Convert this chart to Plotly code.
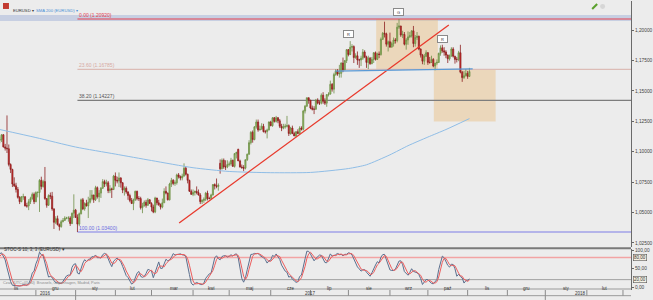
import pandas as pd
import plotly.graph_objects as go

# ---------------- data: EURUSD daily candles ----------------
dates = pd.bdate_range("2016-10-17", "2017-11-02")

open_ = [
 1.0970,1.1000,1.0975,1.0975,1.0930,1.0890,1.0880,1.0885,1.0920,1.0895,1.0985,
 1.0980,1.1055,1.1095,1.1100,1.1140,1.1040,1.1030,1.1025,1.0895,1.0855,1.0735,1.0720,1.0690,1.0625,1.0590,1.0630,1.0630,1.0555,1.0555,1.0590,1.0615,1.0650,
 1.0590,1.0665,1.0665,1.0765,1.0715,1.0755,1.0615,1.0560,1.0640,1.0635,1.0530,1.0420,1.0450,1.0400,1.0385,1.0425,1.0435,1.0455,1.0455,1.0455,1.0410,1.0495,
 1.0520,1.0460,1.0405,1.0490,1.0605,1.0530,1.0575,1.0555,1.0585,1.0615,1.0645,1.0605,1.0705,1.0630,1.0660,1.0700,1.0755,1.0735,1.0745,1.0680,1.0695,1.0690,
 1.0800,1.0765,1.0760,1.0785,1.0745,1.0685,1.0700,1.0670,1.0640,1.0600,1.0575,1.0605,1.0675,1.0615,1.0615,1.0540,1.0555,1.0585,1.0560,1.0605,
 1.0575,1.0545,1.0505,1.0620,1.0580,1.0565,1.0545,1.0580,1.0675,1.0660,1.0605,1.0735,1.0765,1.0740,1.0745,1.0810,1.0795,1.0785,1.0800,1.0865,1.0815,1.0765,1.0675,
 1.0650,1.0665,1.0675,1.0665,1.0645,1.0590,1.0600,1.0610,1.0660,1.0615,1.0615,1.0645,1.0730,1.0720,1.0715,1.0905,1.0860,1.0930,1.0875,1.0875,
 1.0895,1.0900,1.0930,1.0880,1.0985,1.1020,1.0925,1.0875,1.0870,1.0865,1.0935,1.0980,1.1075,1.1160,1.1100,1.1205,1.1245,1.1180,1.1185,1.1210,1.1165,1.1165,1.1180,
 1.1245,1.1215,1.1280,1.1250,1.1280,1.1255,1.1210,1.1195,1.1205,1.1210,1.1215,1.1150,1.1195,1.1150,1.1130,1.1165,1.1150,1.1195,1.1185,1.1335,1.1375,1.1445,
 1.1425,1.1360,1.1350,1.1350,1.1425,1.1400,1.1400,1.1465,1.1415,1.1400,1.1470,1.1475,1.1555,1.1515,1.1635,1.1665,1.1640,1.1645,1.1730,1.1675,1.1750,
 1.1840,1.1800,1.1860,1.1865,1.1775,1.1790,1.1755,1.1755,1.1770,1.1820,1.1780,1.1735,1.1770,1.1725,1.1760,1.1815,1.1760,1.1805,1.1800,1.1925,1.1975,1.1970,1.1885,
 1.1905,1.1860,1.1890,1.1920,1.1915,1.2025,1.2035,1.1960,1.1965,1.1885,1.1920,1.1945,1.1955,1.1995,1.1890,1.1940,1.1950,1.1845,1.1795,1.1745,1.1785,
 1.1815,1.1735,1.1735,1.1760,1.1705,1.1730,1.1735,1.1810,1.1855,1.1830,1.1820,1.1795,1.1765,1.1790,1.1845,1.1785,1.1760,1.1760,1.1815,1.1655,1.1610,1.1625,
 1.1645,1.1620,
]
high = [
 1.1010,1.1030,1.0990,1.1040,1.0945,1.0905,1.0890,1.0945,1.0945,1.0990,1.0990,
 1.1075,1.1125,1.1125,1.1145,1.1145,1.1065,1.1299,1.1060,1.0905,1.0860,1.0790,1.0745,1.0710,1.0635,1.0635,1.0655,1.0635,1.0580,1.0610,1.0630,1.0665,1.0665,
 1.0675,1.0675,1.0775,1.0795,1.0770,1.0875,1.0620,1.0650,1.0665,1.0670,1.0535,1.0470,1.0475,1.0410,1.0440,1.0455,1.0470,1.0465,1.0470,1.0470,1.0500,1.0650,
 1.0530,1.0485,1.0500,1.0615,1.0620,1.0585,1.0605,1.0630,1.0685,1.0685,1.0645,1.0720,1.0715,1.0685,1.0710,1.0775,1.0770,1.0770,1.0760,1.0725,1.0705,1.0810,
 1.0830,1.0795,1.0830,1.0790,1.0750,1.0715,1.0715,1.0675,1.0655,1.0620,1.0615,1.0680,1.0680,1.0635,1.0630,1.0580,1.0600,1.0605,1.0620,1.0610,
 1.0585,1.0565,1.0630,1.0620,1.0605,1.0575,1.0615,1.0700,1.0715,1.0665,1.0745,1.0785,1.0775,1.0765,1.0820,1.0825,1.0805,1.0820,1.0905,1.0875,1.0820,1.0770,1.0690,
 1.0690,1.0680,1.0715,1.0690,1.0660,1.0610,1.0625,1.0670,1.0680,1.0630,1.0655,1.0735,1.0740,1.0780,1.0740,1.0937,1.0945,1.0945,1.0930,1.0930,
 1.0920,1.0950,1.0935,1.0990,1.1000,1.1025,1.0935,1.0895,1.0890,1.0935,1.0985,1.1095,1.1170,1.1175,1.1210,1.1265,1.1265,1.1215,1.1235,1.1230,1.1180,1.1190,1.1250,
 1.1255,1.1285,1.1285,1.1295,1.1285,1.1270,1.1230,1.1230,1.1230,1.1295,1.1225,1.1205,1.1215,1.1165,1.1170,1.1185,1.1210,1.1210,1.1345,1.1385,1.1445,1.1445,
 1.1425,1.1380,1.1375,1.1435,1.1440,1.1420,1.1480,1.1490,1.1440,1.1475,1.1490,1.1585,1.1565,1.1650,1.1680,1.1680,1.1715,1.1735,1.1775,1.1755,1.1845,
 1.1845,1.1910,1.1885,1.1875,1.1810,1.1825,1.1765,1.1790,1.1845,1.1835,1.1790,1.1790,1.1780,1.1780,1.1820,1.1825,1.1815,1.1825,1.1940,1.1985,1.2070,1.1980,1.1915,
 1.1980,1.1905,1.1940,1.1935,1.2060,1.2092,1.2035,1.1995,1.1985,1.1935,1.1990,1.1985,1.2000,1.2035,1.1960,1.1985,1.1955,1.1850,1.1805,1.1805,1.1835,
 1.1820,1.1780,1.1790,1.1770,1.1730,1.1760,1.1815,1.1875,1.1880,1.1860,1.1835,1.1800,1.1800,1.1860,1.1860,1.1790,1.1780,1.1830,1.1880,1.1665,1.1665,1.1680,
 1.1665,1.1690,
]
low = [
 1.0960,1.0980,1.0960,1.0915,1.0860,1.0860,1.0850,1.0875,1.0890,1.0880,1.0955,
 1.0975,1.1050,1.1070,1.1080,1.1035,1.1010,1.0990,1.0880,1.0825,1.0710,1.0710,1.0665,1.0615,1.0570,1.0585,1.0605,1.0550,1.0540,1.0520,1.0570,1.0605,1.0570,
 1.0585,1.0625,1.0505,1.0690,1.0705,1.0605,1.0540,1.0555,1.0610,1.0515,1.0365,1.0405,1.0395,1.0352,1.0375,1.0420,1.0435,1.0445,1.0425,1.0390,1.0405,1.0455,
 1.0455,1.0340,1.0390,1.0485,1.0520,1.0515,1.0550,1.0455,1.0575,1.0600,1.0580,1.0595,1.0615,1.0585,1.0620,1.0695,1.0710,1.0715,1.0660,1.0660,1.0620,1.0685,
 1.0715,1.0740,1.0710,1.0705,1.0660,1.0640,1.0655,1.0605,1.0585,1.0570,1.0520,1.0595,1.0600,1.0595,1.0525,1.0495,1.0550,1.0540,1.0555,1.0570,
 1.0510,1.0495,1.0495,1.0560,1.0555,1.0525,1.0535,1.0580,1.0650,1.0600,1.0600,1.0710,1.0725,1.0720,1.0730,1.0780,1.0765,1.0765,1.0795,1.0805,1.0740,1.0670,1.0645,
 1.0635,1.0640,1.0650,1.0640,1.0570,1.0570,1.0580,1.0595,1.0600,1.0610,1.0610,1.0640,1.0690,1.0700,1.0680,1.0820,1.0855,1.0860,1.0850,1.0865,
 1.0880,1.0885,1.0875,1.0870,1.0945,1.0925,1.0870,1.0860,1.0840,1.0855,1.0925,1.0975,1.1060,1.1075,1.1095,1.1190,1.1165,1.1175,1.1185,1.1160,1.1150,1.1110,1.1175,
 1.1210,1.1205,1.1240,1.1240,1.1235,1.1195,1.1170,1.1185,1.1190,1.1200,1.1130,1.1140,1.1145,1.1130,1.1120,1.1145,1.1150,1.1175,1.1175,1.1315,1.1370,1.1395,
 1.1350,1.1340,1.1310,1.1345,1.1390,1.1385,1.1390,1.1395,1.1385,1.1370,1.1455,1.1470,1.1495,1.1480,1.1625,1.1625,1.1610,1.1610,1.1655,1.1670,1.1730,
 1.1785,1.1795,1.1825,1.1730,1.1765,1.1715,1.1690,1.1705,1.1755,1.1770,1.1690,1.1680,1.1715,1.1720,1.1730,1.1750,1.1755,1.1770,1.1790,1.1920,1.1940,1.1865,1.1825,
 1.1860,1.1860,1.1865,1.1890,1.1900,1.2010,1.1945,1.1935,1.1875,1.1840,1.1880,1.1935,1.1940,1.1860,1.1865,1.1920,1.1835,1.1775,1.1720,1.1715,1.1780,
 1.1715,1.1725,1.1730,1.1695,1.1670,1.1715,1.1730,1.1790,1.1815,1.1790,1.1770,1.1730,1.1750,1.1780,1.1775,1.1725,1.1735,1.1745,1.1645,1.1575,1.1600,1.1620,
 1.1600,1.1615,
]
close = [
 1.1000,1.0975,1.0975,1.0930,1.0890,1.0880,1.0885,1.0920,1.0895,1.0985,1.0980,
 1.1055,1.1095,1.1100,1.1140,1.1040,1.1030,1.1025,1.0895,1.0855,1.0735,1.0720,1.0690,1.0625,1.0590,1.0630,1.0630,1.0555,1.0555,1.0590,1.0615,1.0650,1.0590,
 1.0665,1.0665,1.0765,1.0715,1.0755,1.0615,1.0560,1.0640,1.0635,1.0530,1.0420,1.0450,1.0400,1.0385,1.0425,1.0435,1.0455,1.0455,1.0455,1.0410,1.0495,1.0520,
 1.0460,1.0405,1.0490,1.0605,1.0530,1.0575,1.0555,1.0585,1.0615,1.0645,1.0605,1.0705,1.0630,1.0660,1.0700,1.0755,1.0735,1.0745,1.0680,1.0695,1.0690,1.0800,
 1.0765,1.0760,1.0785,1.0745,1.0685,1.0700,1.0670,1.0640,1.0600,1.0575,1.0605,1.0675,1.0615,1.0615,1.0540,1.0555,1.0585,1.0560,1.0605,1.0575,
 1.0545,1.0505,1.0620,1.0580,1.0565,1.0545,1.0580,1.0675,1.0660,1.0605,1.0735,1.0765,1.0740,1.0745,1.0810,1.0795,1.0785,1.0800,1.0865,1.0815,1.0765,1.0675,1.0650,
 1.0665,1.0675,1.0665,1.0645,1.0590,1.0600,1.0610,1.0660,1.0615,1.0615,1.0645,1.0730,1.0720,1.0715,1.0725,1.0860,1.0930,1.0875,1.0875,1.0895,
 1.0900,1.0930,1.0880,1.0985,1.0995,1.0925,1.0875,1.0870,1.0865,1.0935,1.0980,1.1075,1.1160,1.1100,1.1205,1.1245,1.1180,1.1185,1.1210,1.1165,1.1165,1.1180,1.1245,
 1.1215,1.1280,1.1250,1.1280,1.1255,1.1210,1.1195,1.1205,1.1210,1.1215,1.1150,1.1195,1.1150,1.1130,1.1165,1.1150,1.1195,1.1185,1.1335,1.1375,1.1445,1.1425,
 1.1360,1.1350,1.1350,1.1425,1.1400,1.1400,1.1465,1.1415,1.1400,1.1470,1.1475,1.1555,1.1515,1.1635,1.1665,1.1640,1.1645,1.1730,1.1675,1.1750,1.1840,
 1.1800,1.1860,1.1865,1.1775,1.1790,1.1755,1.1755,1.1770,1.1820,1.1780,1.1735,1.1770,1.1725,1.1760,1.1815,1.1760,1.1805,1.1800,1.1925,1.1975,1.1970,1.1885,1.1905,
 1.1860,1.1890,1.1920,1.1915,1.2025,1.2035,1.1960,1.1965,1.1885,1.1920,1.1945,1.1955,1.1995,1.1890,1.1940,1.1950,1.1845,1.1795,1.1745,1.1785,1.1815,
 1.1735,1.1735,1.1760,1.1705,1.1730,1.1735,1.1810,1.1855,1.1830,1.1820,1.1795,1.1765,1.1790,1.1845,1.1785,1.1760,1.1760,1.1815,1.1655,1.1610,1.1625,1.1645,
 1.1620,1.1660,
]
assert len(open_) == len(high) == len(low) == len(close) == len(dates)

# SMA 200 (date, value)
sma_dates = ["2016-11-03", "2016-12-01", "2017-01-02", "2017-02-01", "2017-03-01", "2017-04-03",
             "2017-05-01", "2017-06-01", "2017-07-03", "2017-08-01", "2017-08-15", "2017-09-01",
             "2017-09-15", "2017-10-02", "2017-10-16", "2017-11-02"]
sma_values = [1.1183, 1.1117, 1.1039, 1.0981, 1.0928, 1.0869, 1.0838, 1.0828, 1.0830, 1.0862,
              1.0893, 1.0975, 1.1050, 1.1121, 1.1183, 1.1273]

# Fibonacci retracement
fib_levels = [0.0, 23.6, 38.2, 100.0]
fib_prices = [1.20920, 1.16785, 1.14227, 1.03400]
fib_labels = ["0.00 (1.20920)", "23.60 (1.16785)", "38.20 (1.14227)", "100.00 (1.03400)"]

price_ticks = [1.025, 1.05, 1.075, 1.10, 1.125, 1.15, 1.175, 1.20]
price_ticktext = ["1,02500", "1,05000", "1,07500", "1,10000", "1,12500", "1,15000", "1,17500", "1,20000"]

month_starts = ["2016-11-01", "2016-12-01", "2017-01-02", "2017-02-01", "2017-03-01", "2017-04-03",
                "2017-05-01", "2017-06-01", "2017-07-03", "2017-08-01", "2017-09-01", "2017-10-02",
                "2017-11-01", "2017-12-01", "2018-01-01", "2018-02-01", "2018-03-01", "2018-04-02"]
month_names = ["lis", "gru", "sty", "lut", "mar", "kwi", "maj", "cze", "lip", "sie", "wrz", "paź",
               "lis", "gru", "sty", "lut", ""]
year_starts = ["2017-01-02", "2018-01-01"]
year_labels = ["2016", "2017", "2018"]

# ---------------- stochastic (10;3;3) from the candles ----------------
df = pd.DataFrame({"h": high, "l": low, "c": close}, index=dates)
hh = df["h"].rolling(10).max()
ll = df["l"].rolling(10).min()
k_raw = 100 * (df["c"] - ll) / (hh - ll)
stoch_k = k_raw.rolling(3).mean()
stoch_d = stoch_k.rolling(3).mean()

# ---------------- geometry ----------------
W, H = 653, 300
R_MARGIN, B_MARGIN = 19, 10
PH = H - B_MARGIN
PW = W - R_MARGIN
def py(px):
    return (PH - px) / PH

X_START = "2016-11-03 03:07"
X_END = "2018-03-07 10:34"

BG = "#ececec"
FONT = "Liberation Sans, Arial, sans-serif"

fig = go.Figure()

fig.add_trace(go.Candlestick(
    x=dates, open=open_, high=high, low=low, close=close,
    increasing=dict(line=dict(color="#6f8f48", width=0.8), fillcolor="#95c45e"),
    decreasing=dict(line=dict(color="#8b2020", width=0.8), fillcolor="#e32020"),
    whiskerwidth=0, showlegend=False, xaxis="x", yaxis="y"))

fig.add_trace(go.Scatter(x=sma_dates, y=sma_values, mode="lines",
                         line=dict(color="#8fbde6", width=1, shape="spline", smoothing=0.6),
                         showlegend=False, xaxis="x", yaxis="y"))

fig.add_trace(go.Scatter(x=["2017-03-22 07:00", "2017-10-17 14:00"], y=[1.04148, 1.20434],
                         mode="lines", line=dict(color="#e8392c", width=1.3),
                         showlegend=False, xaxis="x", yaxis="y"))
fig.add_trace(go.Scatter(x=["2017-07-20 19:00", "2017-11-03 19:00"], y=[1.1663, 1.1682],
                         mode="lines", line=dict(color="#5a9ad6", width=1.3),
                         showlegend=False, xaxis="x", yaxis="y"))

fig.add_trace(go.Scatter(x=dates, y=stoch_k, mode="lines", line=dict(color="#5b6f8e", width=1),
                         showlegend=False, xaxis="x2", yaxis="y2"))
fig.add_trace(go.Scatter(x=dates, y=stoch_d, mode="lines", line=dict(color="#ec5d5d", width=1),
                         showlegend=False, xaxis="x2", yaxis="y2"))

shapes = []
annotations = []

shapes.append(dict(type="rect", xref="paper", yref="paper", x0=0, x1=1, y0=py(20), y1=py(14),
                   fillcolor="#c7cfe2", line=dict(width=0), layer="below"))

shapes.append(dict(type="rect", xref="x", yref="y", x0="2017-08-22 09:00", x1="2017-10-09 13:00",
                   y0=1.16785, y1=1.2092, fillcolor="rgba(236,190,128,0.45)", line=dict(width=0),
                   layer="below"))
shapes.append(dict(type="rect", xref="x", yref="y", x0="2017-10-05 07:00", x1="2017-11-22 12:00",
                   y0=1.1250, y1=1.16785, fillcolor="rgba(236,190,128,0.45)", line=dict(width=0),
                   layer="below"))

fib_colors = ["#e5404f", "#dcbcb6", "#7d7d7d", "#7c7ce6"]
fib_text_colors = ["#e5404f", "#d7a9a2", "#555555", "#6a6ae0"]
for lvl, p, lab, c, tc in zip(fib_levels, fib_prices, fib_labels, fib_colors, fib_text_colors):
    shapes.append(dict(type="line", xref="x", yref="y", x0="2017-01-03", x1=X_END, y0=p, y1=p,
                       line=dict(color=c, width=1.2), layer="below"))
    annotations.append(dict(x="2017-01-03", y=p, xref="x", yref="y", text=lab, showarrow=False,
                            xanchor="left", yanchor="bottom", yshift=-1,
                            font=dict(size=5, color=tc, family=FONT)))

for xd, yv, t in [("2017-08-01", 1.1970, "R"), ("2017-09-08", 1.2147, "G"), ("2017-10-12", 1.19287, "R")]:
    annotations.append(dict(x=xd, y=yv, xref="x", yref="y", text=t, showarrow=False,
                            bgcolor="#ffffff", bordercolor="#8a8a8a", borderwidth=1, borderpad=1,
                            width=7, height=4, font=dict(size=4, color="#333", family=FONT)))

shapes.append(dict(type="rect", xref="paper", yref="paper", x0=0, x1=1, y0=py(249), y1=py(247),
                   fillcolor="#7a7a7a", line=dict(width=0)))

shapes.append(dict(type="line", xref="paper", yref="y2", x0=0, x1=1, y0=80, y1=80,
                   line=dict(color="#f2a3a3", width=1.3), layer="below"))
shapes.append(dict(type="line", xref="paper", yref="y2", x0=0, x1=1, y0=20, y1=20,
                   line=dict(color="#a0a0a0", width=1), layer="below"))
shapes.append(dict(type="line", xref="paper", yref="paper", x0=0, x1=1, y0=py(289), y1=py(289),
                   line=dict(color="#9a9a9a", width=1)))

shapes.append(dict(type="line", xref="paper", yref="paper", x0=0, x1=1, y0=py(295.7), y1=py(295.7),
                   line=dict(color="#9a9a9a", width=1)))
for ms in month_starts:
    full = ms in year_starts
    shapes.append(dict(type="line", xref="x", yref="paper", x0=ms, x1=ms,
                       y0=py(300) if full else py(295.7), y1=py(290),
                       line=dict(color="#8a8a8a", width=1)))
for i, name in enumerate(month_names):
    if not name:
        continue
    seg = pd.bdate_range(month_starts[i], month_starts[i + 1])
    mid = seg[0] + (seg[-1] - seg[0]) / 2
    if mid.weekday() >= 5:
        mid = mid - pd.Timedelta(days=mid.weekday() - 4)
    annotations.append(dict(x=mid.strftime("%Y-%m-%d %H:%M"), y=py(292.9), xref="x", yref="paper",
                            text=name, showarrow=False, font=dict(size=4.5, color="#333", family=FONT)))
for xp, lab in zip([38, 312, 591], year_labels):
    annotations.append(dict(x=xp / PW, y=py(298), xref="paper", yref="paper", text=lab,
                            showarrow=False, font=dict(size=4.5, color="#333", family=FONT)))

annotations.append(dict(x=1.0, y=80, xref="paper", yref="y2", text="80,00", showarrow=False,
                        xanchor="left", xshift=2, bgcolor="#f6eee0", bordercolor="#555", borderwidth=0.6,
                        borderpad=0.5, font=dict(size=4.5, color="#333", family=FONT)))
annotations.append(dict(x=1.0, y=20, xref="paper", yref="y2", text="20,00", showarrow=False,
                        xanchor="left", xshift=2, bgcolor="#f6f3e6", bordercolor="#555", borderwidth=0.6,
                        borderpad=0.5, font=dict(size=4.5, color="#333", family=FONT)))

# header
shapes.append(dict(type="rect", xref="paper", yref="paper", x0=3 / PW, x1=9 / PW, y0=py(8), y1=py(2),
                   fillcolor="#c23a30", line=dict(width=0)))
annotations.append(dict(x=11 / PW, y=py(5), xref="paper", yref="paper", text="EURUSD ▾", showarrow=False,
                        xanchor="left", font=dict(size=4.2, color="#333", family=FONT)))
annotations.append(dict(x=34 / PW, y=py(5), xref="paper", yref="paper", text="SMA 200 (EURUSD) ▾",
                        showarrow=False, xanchor="left", font=dict(size=4.2, color="#4a8fd6", family=FONT)))
annotations.append(dict(x=2 / PW, y=py(254), xref="paper", yref="paper", text="STOC-S 10; 3; 3 (EURUSD) ▾",
                        showarrow=False, xanchor="left", font=dict(size=4.5, color="#333", family=FONT)))
annotations.append(dict(x=1 / PW, y=py(286.8), xref="paper", yref="paper",
                        text="Czas (UTC+01:00)  Brussels, Copenhagen, Madrid, Paris",
                        showarrow=False, xanchor="left", font=dict(size=3.8, color="#8a8a8a", family=FONT)))

shapes.append(dict(type="line", xref="paper", yref="paper", x0=595 / PW, x1=600 / PW, y0=py(8), y1=py(3),
                   line=dict(color="#5aa02c", width=2)))
shapes.append(dict(type="circle", xref="paper", yref="paper", x0=603 / PW, x1=608 / PW, y0=py(8), y1=py(3),
                   fillcolor="#d6d6d6", line=dict(width=0)))

axis_font = dict(size=4.8, color="#444", family=FONT)
fig.update_layout(
    width=W, height=H,
    margin=dict(l=0, r=R_MARGIN, t=0, b=B_MARGIN),
    paper_bgcolor=BG, plot_bgcolor=BG,
    boxgap=0.15,
    shapes=shapes, annotations=annotations,
    xaxis=dict(domain=[0, 1], range=[X_START, X_END], type="date",
               rangebreaks=[dict(bounds=["sat", "mon"])], showticklabels=False,
               showgrid=False, zeroline=False, rangeslider=dict(visible=False), anchor="y"),
    xaxis2=dict(domain=[0, 1], matches="x", type="date", rangebreaks=[dict(bounds=["sat", "mon"])],
                showticklabels=False, showgrid=False, zeroline=False, anchor="y2"),
    yaxis=dict(domain=[py(247), 1], range=[1.2 - (247 - 29.3) / 1220, 1.2 + 29.3 / 1220],
               side="right", tickvals=price_ticks, ticktext=price_ticktext, tickfont=axis_font,
               ticks="outside", ticklen=2, tickcolor="#666", showline=True, linecolor="#6a6a6a",
               linewidth=1, showgrid=False, zeroline=False, anchor="x"),
    yaxis2=dict(domain=[0, py(249)], range=[(287 - 290) / 0.37, (287 - 249) / 0.37],
                side="right", tickvals=[0, 50, 100], ticktext=["0,00", "50,00", "100,00"],
                tickfont=axis_font, ticks="outside", ticklen=2, tickcolor="#666", showline=True,
                linecolor="#6a6a6a", linewidth=1, showgrid=False, zeroline=False, anchor="x2"),
)

fig.write_html("out.html")
